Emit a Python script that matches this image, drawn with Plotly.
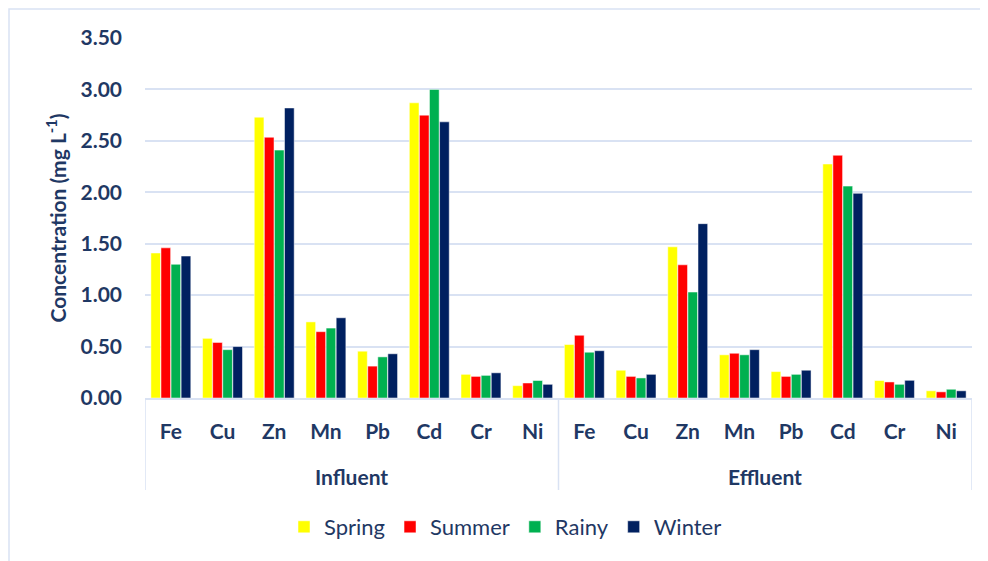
import plotly.graph_objects as go

group_names = ["Influent", "Effluent"]
metal_names = ["Fe", "Cu", "Zn", "Mn", "Pb", "Cd", "Cr", "Ni"]

spring = [1.41, 0.58, 2.73, 0.74, 0.455, 2.87, 0.23, 0.12,
          0.52, 0.27, 1.47, 0.42, 0.257, 2.275, 0.17, 0.07]
summer = [1.46, 0.54, 2.535, 0.645, 0.31, 2.75, 0.21, 0.146,
          0.61, 0.21, 1.295, 0.435, 0.21, 2.36, 0.156, 0.06]
rainy = [1.30, 0.47, 2.41, 0.68, 0.40, 3.00, 0.22, 0.17,
         0.445, 0.195, 1.03, 0.42, 0.23, 2.06, 0.133, 0.085]
winter = [1.38, 0.50, 2.82, 0.78, 0.43, 2.685, 0.245, 0.133,
          0.46, 0.23, 1.695, 0.47, 0.27, 1.99, 0.172, 0.07]

series = [("Spring", spring, "#FFFF00"), ("Summer", summer, "#FF0000"),
          ("Rainy", rainy, "#00B050"), ("Winter", winter, "#002060")]

keys = [f"{g}|{m}" for g in group_names for m in metal_names]
labels = [m for g in group_names for m in metal_names]

txt = "#1F3864"
grid = "#D9E2F3"
W, H = 988, 561
ML, MR, MT, MB = 137, 24, 30, 171
PW, PH = W - ML - MR, H - MT - MB

fig = go.Figure()
for name, vals, col in series:
    fig.add_trace(go.Bar(x=keys, y=vals, name=name,
                         marker=dict(color=col, line=dict(color="white", width=0.5))))

n = len(metal_names)
shapes = []
for i in range(len(group_names) + 1):
    shapes.append(dict(type="line", xref="x", yref="paper",
                       x0=i * n - 0.5, x1=i * n - 0.5, y0=0, y1=-92 / PH,
                       line=dict(color=grid, width=1.5)))
# outer chart frame
shapes.append(dict(type="rect", xref="paper", yref="paper",
                   x0=(1 - ML) / PW, x1=(W + 20 - ML) / PW,
                   y0=-(MB + 20) / PH, y1=1 + (MT - 1) / PH,
                   line=dict(color=grid, width=1.5), layer="below"))

annotations = []
for i, g in enumerate(group_names):
    annotations.append(dict(text=g, xref="x", yref="paper",
                            x=i * n + (n - 1) / 2, y=-78 / PH, yanchor="middle",
                            showarrow=False,
                            font=dict(size=21, color=txt, weight="bold")))

fig.update_layout(
    width=W, height=H,
    margin=dict(l=ML, r=MR, t=MT, b=MB, autoexpand=False),
    paper_bgcolor="white", plot_bgcolor="white",
    barmode="group", bargap=0.22, bargroupgap=0.04,
    font=dict(family="Lato, Open Sans, sans-serif", color=txt),
    legend=dict(orientation="h", x=(276 - ML) / PW, xanchor="left",
                y=-0.30, yanchor="top",
                font=dict(size=22, color=txt), traceorder="normal"),
    showlegend=True,
    shapes=shapes,
    annotations=annotations,
)
fig.update_yaxes(range=[0, 3.5], dtick=0.5, tickformat=".2f",
                 showgrid=True, gridcolor=grid, gridwidth=1.5,
                 zeroline=False, showline=False, automargin=False,
                 tickfont=dict(size=21, color=txt, weight="bold"),
                 ticklabelstandoff=22,
                 title=dict(text="Concentration (mg L<sup>-1</sup>)",
                            font=dict(size=21, color=txt, weight="bold"), standoff=8))
fig.update_xaxes(type="category", tickvals=keys, ticktext=labels,
                 range=[-0.5, len(keys) - 0.5],
                 showline=True, linecolor=grid, linewidth=1.5,
                 tickfont=dict(size=21, color=txt, weight="bold"),
                 ticklabelstandoff=14, automargin=False,
                 showgrid=False, ticks="")
fig.write_html("out.html")
